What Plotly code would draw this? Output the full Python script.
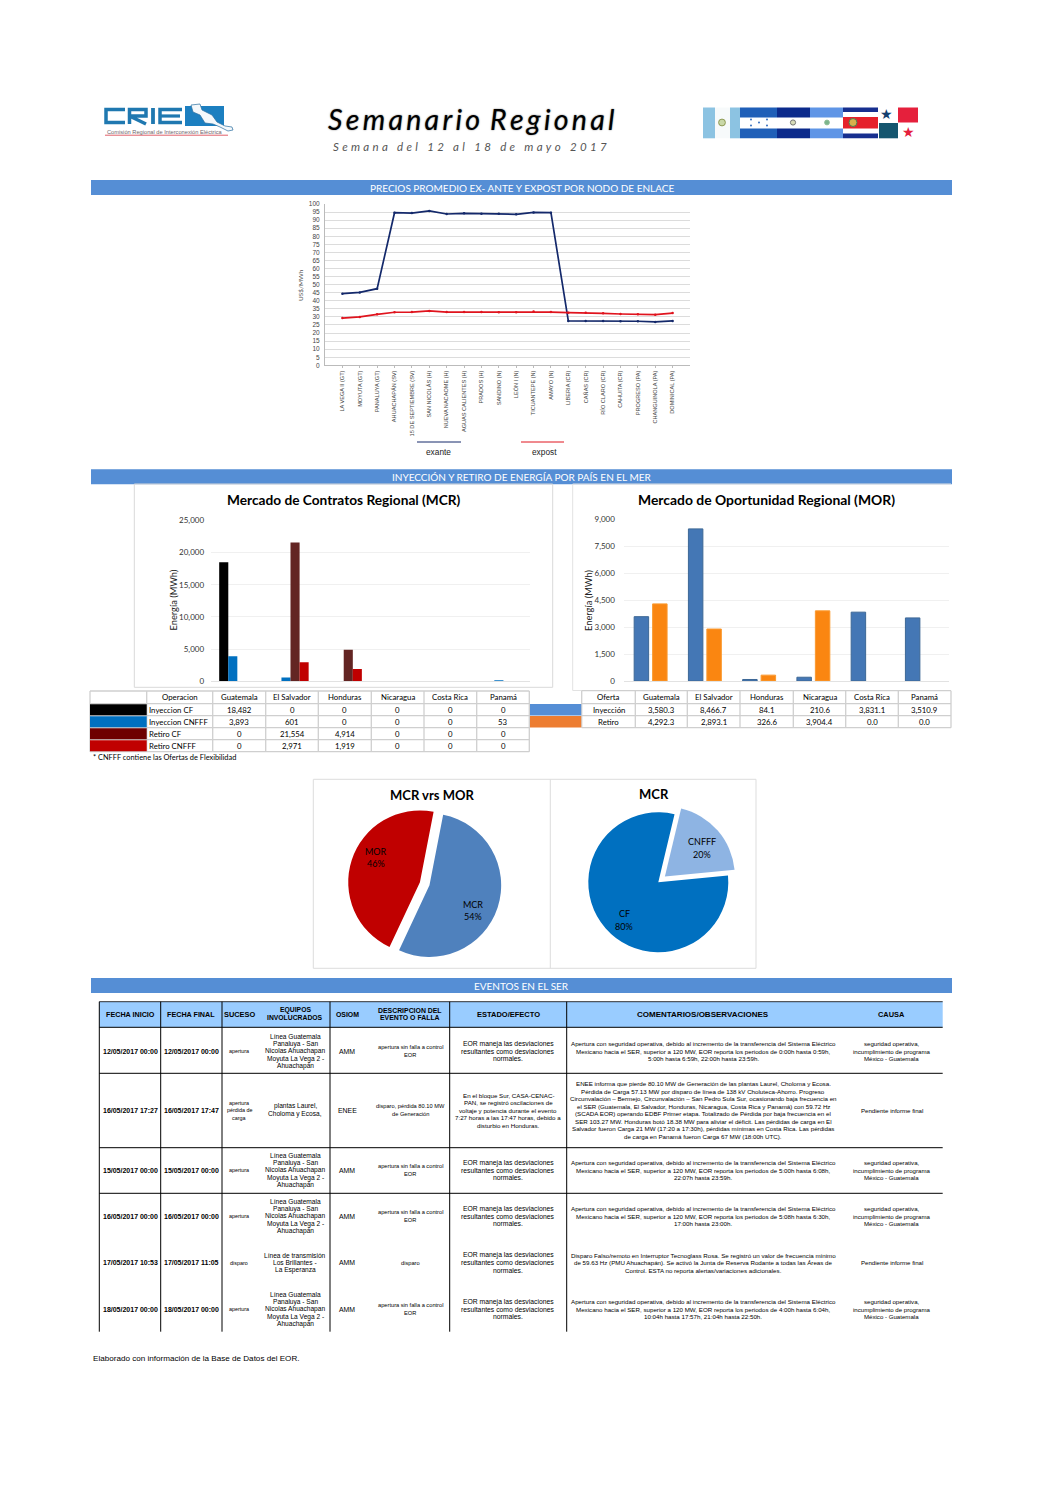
import plotly.graph_objects as go

W, H = 1058, 1496

# ---------------- data ----------------
nodes = ["LA VEGA II (GT)", "MOYUTA (GT)", "PANALUYA (GT)", "AHUACHAPÁN (SV)", "15 DE SEPTIEMBRE (SV)",
         "SAN NICOLÁS (H)", "NUEVA NACAOME (H)", "AGUAS CALIENTES (H)", "PRADOS (H)", "SANDINO (N)",
         "LEÓN I (N)", "TICUANTEPE (N)", "AMAYO (N)", "LIBERIA (CR)", "CAÑAS (CR)", "RÍO CLARO (CR)",
         "CAHUITA (CR)", "PROGRESO (PA)", "CHANGUINOLA (PA)", "DOMINICAL (PA)"]
exante = [44.4, 45.2, 47.5, 94.6, 94.4, 95.7, 93.8, 94.2, 94.0, 94.0,
          93.6, 94.8, 94.6, 27.5, 27.5, 27.5, 27.3, 27.3, 26.9, 27.5]
expost = [29.3, 30.0, 31.6, 32.9, 33.0, 33.7, 33.0, 33.0, 33.0, 32.9,
          32.9, 33.3, 33.0, 32.6, 32.6, 32.2, 31.8, 31.6, 31.4, 32.4]

countries = ["Guatemala", "El Salvador", "Honduras", "Nicaragua", "Costa Rica", "Panamá"]
mcr_series = ["Inyeccion CF", "Inyeccion CNFFF", "Retiro CF", "Retiro CNFFF"]
iny_cf = [18482, 0, 0, 0, 0, 0]
iny_cnfff = [3893, 601, 0, 0, 0, 53]
ret_cf = [0, 21554, 4914, 0, 0, 0]
ret_cnfff = [0, 2971, 1919, 0, 0, 0]

mor_series = ["Inyección", "Retiro"]
mor_iny = [3580.3, 8466.7, 84.1, 210.6, 3831.1, 3510.9]
mor_ret = [4292.3, 2893.1, 326.6, 3904.4, 0.0, 0.0]

pie1_labels = ["MCR", "MOR"]
pie1_values = [23029, 19683]
pie2_labels = ["CF", "CNFFF"]
pie2_values = [18482, 4547]

ev_headers = ["FECHA INICIO", "FECHA FINAL", "SUCESO", "EQUIPOS\nINVOLUCRADOS", "OSIOM",
              "DESCRIPCION DEL\nEVENTO O FALLA", "ESTADO/EFECTO", "COMENTARIOS/OBSERVACIONES", "CAUSA"]
EQ = "Línea Guatemala\nPanaluya - San\nNicolas Ahuachapan\nMoyuta La Vega 2 -\nAhuachapán"
AP = "apertura sin falla a control\nEOR"
ES = "EOR maneja las desviaciones\nresultantes como desviaciones\nnormales."
SE = "seguridad operativa,\nincumplimiento de programa\nMéxico - Guatemala"
PI = "Pendiente informe final"
events = [
    ["12/05/2017 00:00", "12/05/2017 00:00", "apertura", EQ, "AMM", AP, ES,
     "Apertura con seguridad operativa, debido al incremento de la transferencia del Sistema Eléctrico\n"
     "Mexicano hacia el SER, superior a 120 MW, EOR reporta los periodos de 0:00h hasta 0:59h,\n"
     "5:00h hasta 6:59h, 22:00h hasta 23:59h.", SE],
    ["16/05/2017 17:27", "16/05/2017 17:47", "apertura\npérdida de\ncarga", "plantas Laurel,\nCholoma y Ecosa,", "ENEE",
     "disparo, pérdida 80.10 MW\nde Generación",
     "En el bloque Sur, CASA-CENAC-\nPAN, se registró oscilaciones de\nvoltaje y potencia durante el evento\n7:27 horas a las 17:47 horas, debido a\ndisturbio en Honduras.",
     "ENEE informa que pierde 80.10 MW de Generación de las plantas Laurel, Choloma y Ecosa.\n"
     "Pérdida de Carga 57.13 MW por disparo de línea de 138 kV Choluteca-Ahorro. Progreso\n"
     "Circunvalación – Bermejo, Circunvalación – San Pedro Sula Sur, ocasionando baja frecuencia en\n"
     "el SER (Guatemala, El Salvador, Honduras, Nicaragua, Costa Rica y Panamá) con 59.72 Hz\n"
     "(SCADA EOR) operando EDBF Primer etapa. Totalizado de Pérdida por baja frecuencia en el\n"
     "SER 103.27 MW. Honduras botó 18.38 MW para aliviar el déficit. Las pérdidas de carga en El\n"
     "Salvador fueron Carga 21 MW (17:20 a 17:30h), pérdidas mínimas en Costa Rica. Las pérdidas\n"
     "de carga en Panamá fueron Carga 67 MW (18:00h UTC).", PI],
    ["15/05/2017 00:00", "15/05/2017 00:00", "apertura", EQ, "AMM", AP, ES,
     "Apertura con seguridad operativa, debido al incremento de la transferencia del Sistema Eléctrico\n"
     "Mexicano hacia el SER, superior a 120 MW, EOR reporta los periodos de 5:00h hasta 6:08h,\n"
     "22:07h hasta 23:59h.", SE],
    ["16/05/2017 00:00", "16/05/2017 00:00", "apertura", EQ, "AMM", AP, ES,
     "Apertura con seguridad operativa, debido al incremento de la transferencia del Sistema Eléctrico\n"
     "Mexicano hacia el SER, superior a 120 MW, EOR reporta los periodos de 5:08h hasta 6:30h,\n"
     "17:00h hasta 23:00h.", SE],
    ["17/05/2017 10:53", "17/05/2017 11:05", "disparo", "Línea de transmisión\nLos Brillantes -\nLa Esperanza", "AMM", "disparo", ES,
     "Disparo Falso/remoto en Interruptor Tecnoglass Rosa. Se registró un valor de frecuencia mínimo\n"
     "de 59.63 Hz (PMU Ahuachapán). Se activó la Junta de Reserva Rodante a todas las Áreas de\n"
     "Control. ESTA no reporta alertas/variaciones adicionales.", PI],
    ["18/05/2017 00:00", "18/05/2017 00:00", "apertura", EQ, "AMM", AP, ES,
     "Apertura con seguridad operativa, debido al incremento de la transferencia del Sistema Eléctrico\n"
     "Mexicano hacia el SER, superior a 120 MW, EOR reporta los periodos de 4:00h hasta 6:04h,\n"
     "10:04h hasta 17:57h, 21:04h hasta 22:50h.", SE],
]

# ---------------- layout helpers (page pixels -> paper) ----------------
def fx(x): return x / W
def fy(y): return 1 - y / H

SANS = "Liberation Sans"
CAL = "Lato"
shapes, annos = [], []

def rect(x0, y0, x1, y1, fill=None, line=None, lw=1, layer="below"):
    shapes.append(dict(type="rect", xref="paper", yref="paper", x0=fx(x0), x1=fx(x1), y0=fy(y0), y1=fy(y1),
                       fillcolor=fill if fill else "rgba(0,0,0,0)",
                       line=dict(color=line if line else "rgba(0,0,0,0)", width=lw if line else 0), layer=layer))

def seg(x0, y0, x1, y1, color, lw=1, layer="above"):
    shapes.append(dict(type="line", xref="paper", yref="paper", x0=fx(x0), x1=fx(x1), y0=fy(y0), y1=fy(y1),
                       line=dict(color=color, width=lw), layer=layer))

def poly(pts, fill=None, line=None, lw=1, closed=True, layer="above"):
    d = "M " + " L ".join(f"{fx(x):.5f} {fy(y):.5f}" for x, y in pts) + (" Z" if closed else "")
    shapes.append(dict(type="path", xref="paper", yref="paper", path=d,
                       fillcolor=fill if fill else "rgba(0,0,0,0)",
                       line=dict(color=line if line else "rgba(0,0,0,0)", width=lw if line else 0), layer=layer))

def disc(cx, cy, r, fill, line=None, lw=1):
    shapes.append(dict(type="circle", xref="paper", yref="paper", x0=fx(cx - r), x1=fx(cx + r), y0=fy(cy + r), y1=fy(cy - r),
                       fillcolor=fill, line=dict(color=line if line else "rgba(0,0,0,0)", width=lw if line else 0)))

def text(x, y, s, size=8, color="#000000", family=CAL, anchor="center", angle=0, bold=False, italic=False, shadow=None):
    font = dict(size=size, color=color, family=family)
    if bold: font["weight"] = "bold"
    if italic: font["style"] = "italic"
    if shadow: font["shadow"] = shadow
    annos.append(dict(xref="paper", yref="paper", x=fx(x), y=fy(y), text=s, showarrow=False, font=font,
                      xanchor=anchor, yanchor="middle", textangle=angle, borderpad=0, borderwidth=0))

def block(x, y, s, size, lh, **kw):
    lines = s.split("\n")
    top = y - lh * (len(lines) - 1) / 2
    for i, line in enumerate(lines):
        text(x, top + i * lh, line, size, **kw)

fig = go.Figure()

# ---------------- header: CRIE logo ----------------
LOGO = "#1f78b0"
poly([(125, 109.5), (106, 109.5), (106, 122.5), (125, 122.5)], line=LOGO, lw=3.5, closed=False)
poly([(129.5, 124), (129.5, 109.5), (146, 109.5), (146, 116), (129.5, 116), (146, 124)], line=LOGO, lw=3.5, closed=False)
poly([(153, 108), (153, 124)], line=LOGO, lw=3.8, closed=False)
poly([(182, 109.5), (160, 109.5), (160, 122.5), (182, 122.5)], line=LOGO, lw=3.5, closed=False)
poly([(160, 116), (180, 116)], line=LOGO, lw=3.2, closed=False)
rect(185, 106, 224, 126, fill="#1c7fc0", layer="above")
poly([(191, 105), (200, 104), (202, 110), (212, 115), (217, 122), (225, 126), (232, 127), (233, 130),
      (228, 131), (220, 127), (213, 124), (205, 123), (200, 115), (193, 112)], fill="#f4f8fb", line="#2a6f9f", lw=0.7)
text(165, 131.5, "Comisión Regional de Interconexión Eléctrica", 5.7, color="#6f666c", family=SANS)
seg(105, 135.2, 228, 135.2, "#e0606a", 1)

# ---------------- header: title ----------------
TH = "\u2009"
text(470.5, 119.5, TH.join("Semanario") + " \u2009" + TH.join("Regional"), 28.5, italic=True, family=CAL,
     shadow="0 0 1.5px #555555")
text(470, 146, (TH + TH + "\u200a").join("Semana del 12 al 18 de mayo 2017"), 11.5, italic=True, color="#555555", family=CAL)

# ---------------- header: flags ----------------
FT, FB = 107.5, 138.3
def band(x0, x1, y0, y1, c): rect(x0, y0, x1, y1, fill=c, layer="above")
band(703, 715, FT, FB, "#8cc3e2"); band(715, 730, FT, FB, "#f7fafb"); band(730, 740, FT, FB, "#8cc3e2")
band(740, 777, FT, FB, "#ffffff"); band(740, 777, FT, 117.5, "#1f5fb8"); band(740, 777, 128.5, FB, "#1f5fb8")
band(777, 810, FT, FB, "#ffffff"); band(777, 810, FT, 117.5, "#0b2a8c"); band(777, 810, 128.5, FB, "#0b2a8c")
band(810, 843, FT, FB, "#ffffff"); band(810, 843, FT, 117.5, "#5f95e6"); band(810, 843, 128.5, FB, "#5f95e6")
band(843, 878, FT, FB, "#ffffff"); band(843, 878, FT, 112, "#172f8f"); band(843, 878, 117, 128.5, "#e5202a"); band(843, 878, 133.5, FB, "#172f8f")
band(879, 898, 123, FB, "#15566f"); band(898, 918, FT, 122.5, "#e5203c")
disc(722, 122.5, 3.4, "#c9d8a8", "#8e9a55"); disc(793, 122.5, 2.6, "#d8dcb8", "#777777")
disc(827, 122.5, 2.4, "#7cb58c", "#8fbf98"); disc(853, 122.5, 4, "#d8b04c", "#4a7f52")
for cx, cy in [(751, 119.5), (767, 119.5), (759, 122.5), (751, 125.5), (767, 125.5)]:
    disc(cx, cy, 0.9, "#1f5fb8")
text(886.5, 114, "★", 14, color="#14406f", family="DejaVu Sans")
text(908.5, 132, "★", 14, color="#e5203c", family="DejaVu Sans")

# ---------------- section bars ----------------
BAR = "#558ed5"
for y0, label in [(180, "PRECIOS PROMEDIO EX- ANTE Y EXPOST POR NODO DE ENLACE"),
                  (469.3, "INYECCIÓN Y RETIRO DE ENERGÍA POR PAÍS EN EL MER"),
                  (978, "EVENTOS EN EL SER")]:
    rect(91, y0, 952, y0 + 15, fill=BAR)
    text(521.5, y0 + 7.8, label, 10, color="#ffffff", family=CAL)

# ---------------- price lines ----------------
LX0, LX1, LY0, LY1 = 325, 690, 204, 365.3
fig.add_trace(go.Scatter(x=nodes, y=exante, name="exante", mode="lines+markers", line=dict(color="#14296b", width=1.7),
                         marker=dict(size=2.5, color="#14296b"), xaxis="x", yaxis="y", showlegend=False))
fig.add_trace(go.Scatter(x=nodes, y=expost, name="expost", mode="lines+markers", line=dict(color="#e0141e", width=1.7),
                         marker=dict(size=2.5, color="#e0141e"), xaxis="x", yaxis="y", showlegend=False))
text(300, 285, "US$/MWh", 6.5, color="#555555", family=CAL, angle=-90)
seg(417, 442, 461, 442, "#14296b", 1)
seg(521, 442, 564, 442, "#e0141e", 1)
text(438, 452.3, "exante", 8.3, color="#222222", family=SANS)
text(544, 452.3, "expost", 8.3, color="#222222", family=SANS)

# ---------------- MCR chart ----------------
rect(134.3, 484, 552.7, 687.3, line="#d9d9d9", lw=1)
mcr_colors = ["#000000", "#0070c0", "#632523", "#c00000"]
for name, vals, col in zip(mcr_series, [iny_cf, iny_cnfff, ret_cf, ret_cnfff], mcr_colors):
    fig.add_trace(go.Bar(x=countries, y=vals, name=name, marker=dict(color=col, line=dict(width=0)),
                         xaxis="x2", yaxis="y2", showlegend=False))
text(343.5, 499.6, "Mercado de Contratos Regional (MCR)", 13.7, bold=True)
text(173, 600.5, "Energía (MWh)", 9.3, angle=-90, color="#222222")

# ---------------- MOR chart ----------------
poly([(951, 484), (572.7, 484), (572.7, 690.5), (951, 690.5)], line="#e2e2e2", lw=1, closed=False, layer="below")
mor_colors = ["#4477b5", "#fa8611"]
mor_edges = ["#3d6896", "#fa9a30"]
for name, vals, col, edge in zip(mor_series, [mor_iny, mor_ret], mor_colors, mor_edges):
    fig.add_trace(go.Bar(x=countries, y=vals, name=name,
                         marker=dict(color=col, line=dict(color=edge, width=[1 if v > 0 else 0 for v in vals])),
                         xaxis="x3", yaxis="y3", showlegend=False))
text(766, 499.6, "Mercado de Oportunidad Regional (MOR)", 13.9, bold=True)
text(588.5, 600.5, "Energía (MWh)", 9.3, angle=-90, color="#222222")

# ---------------- small tables ----------------
GRID = "#cfcfcf"
def grid(xs, ys, lw=1.3):
    for x in xs:
        seg(x, ys[0], x, ys[-1], GRID, lw, layer="below")
    for y in ys:
        seg(xs[0], y, xs[-1], y, GRID, lw, layer="below")

mx = [90, 146.7, 212.7, 265.7, 318.3, 371.3, 424, 476.7, 529.3]
my = [691, 703.7, 715.7, 727.7, 739.7, 751.7]
grid(mx, my)
swatch_mcr = ["#000000", "#0070c0", "#6e0000", "#c00000"]
text((mx[1] + mx[2]) / 2, (my[0] + my[1]) / 2, "Operacion", 7.8)
for j, c in enumerate(countries):
    text((mx[j + 2] + mx[j + 3]) / 2, (my[0] + my[1]) / 2, c, 7.8)
for i, (name, vals, col) in enumerate(zip(mcr_series, [iny_cf, iny_cnfff, ret_cf, ret_cnfff], swatch_mcr)):
    cy = (my[i + 1] + my[i + 2]) / 2
    rect(mx[0], my[i + 1] + 0.5, mx[1], my[i + 2] - 0.5, fill=col, layer="above")
    text(149, cy, name, 7.8, anchor="left")
    for j, v in enumerate(vals):
        text((mx[j + 2] + mx[j + 3]) / 2, cy, f"{v:,}", 7.8)
text(93, 757.3, "* CNFFF contiene las Ofertas de Flexibilidad", 7.4, anchor="left")

ox = [581.7, 635.3, 687.3, 740, 793.3, 845.7, 898.3, 951]
oy = [690.7, 703.7, 715.7, 727.7]
grid(ox, oy)
text((ox[0] + ox[1]) / 2, (oy[0] + oy[1]) / 2, "Oferta", 7.8)
for j, c in enumerate(countries):
    text((ox[j + 1] + ox[j + 2]) / 2, (oy[0] + oy[1]) / 2, c, 7.8)
for i, (name, vals, col) in enumerate(zip(mor_series, [mor_iny, mor_ret], ["#558ed5", "#ed7d31"])):
    cy = (oy[i + 1] + oy[i + 2]) / 2
    rect(530, oy[i + 1] + 0.3, 581.2, oy[i + 2] - 0.3, fill=col, layer="above")
    text((ox[0] + ox[1]) / 2, cy, name, 7.8)
    for j, v in enumerate(vals):
        text((ox[j + 1] + ox[j + 2]) / 2, cy, f"{v:,.1f}", 7.8)

# ---------------- pies ----------------
rect(313.3, 779.3, 756, 968.3, line="#dddddd", lw=1)
seg(550.3, 779.3, 550.3, 968.3, "#dddddd", 1, layer="below")
def pie_domain(cx, cy, r, pull):
    half = r * (1 + pull)
    return dict(x=[fx(cx - half), fx(cx + half)], y=[fy(cy + half), fy(cy - half)])
fig.add_trace(go.Pie(labels=pie1_labels, values=pie1_values, sort=False, direction="clockwise", rotation=11,
                     pull=[0.07, 0.07], textinfo="none", hoverinfo="label+percent", showlegend=False,
                     marker=dict(colors=["#4f81bd", "#c00000"], line=dict(width=0)),
                     domain=pie_domain(424.7, 883.7, 71.7, 0.07)))
fig.add_trace(go.Pie(labels=pie2_labels, values=pie2_values, sort=False, direction="clockwise", rotation=84.5,
                     pull=[0, 0.125], textinfo="none", hoverinfo="label+percent", showlegend=False,
                     marker=dict(colors=["#0070c0", "#8eb4e3"], line=dict(width=0)),
                     domain=pie_domain(658.3, 882.3, 70, 0.125)))
text(431.7, 795.3, "MCR vrs MOR", 13, bold=True)
text(654, 794.3, "MCR", 13, bold=True)
block(375.7, 857.3, "MOR\n46%", 9, 12, color="#000000")
block(473, 910, "MCR\n54%", 9, 12, color="#000000")
block(701.7, 848.3, "CNFFF\n20%", 9, 13, color="#000000")
block(624, 920, "CF\n80%", 9, 12.5, color="#000000")

# ---------------- events table ----------------
vx = [99.3, 160.7, 222, 330, 449.7, 566.7]
rect(99.3, 1001.7, 942.7, 1027.3, fill="#99ccff")
seg(99.3, 1001.7, 942.7, 1001.7, "#000000", 0.8)
for x in vx:
    seg(x, 1001.7, x, 1331.7, "#000000", 1)
for y in [1027.3, 1073.3, 1147.7, 1193.3]:
    seg(99.3, y, 942.7, y, "#000000", 1)

col_x = [130, 191, 239, 295, 347, 410, 508, 703, 891.7]
head_size = [7.2, 7.2, 7.4, 6.8, 6.9, 6.9, 7.5, 8, 7.4]
col_size = [7, 7, 5.4, 6.6, 6.9, 5.7, 6.8, 6.2, 6.1]
row_y = [1051, 1110, 1170, 1216, 1262.7, 1309]
for x, h, s in zip(col_x, ev_headers, head_size):
    block(x, 1014, h, s, 7.5, bold=True, family=SANS)
for r, (y, row) in enumerate(zip(row_y, events)):
    for k, (x, s, cell) in enumerate(zip(col_x, col_size, row)):
        if r == 1 and k == 6:
            s = 6.2
        block(x, y, cell, s, 7.5, family=SANS, bold=k < 2)
text(93, 1358, "Elaborado con información de la Base de Datos del EOR.", 8.1, family=SANS, anchor="left")

# ---------------- axes ----------------
def dom(x0, x1, y0, y1):
    return dict(domain=[fx(x0), fx(x1)]), dict(domain=[fy(y1), fy(y0)])

dx1, dy1 = dom(LX0, LX1, LY0, LY1)
dx2, dy2 = dom(210.7, 530, 520.3, 681.3)
dx3, dy3 = dom(623.5, 949, 519.3, 681)

fig.update_layout(
    width=W, height=H, autosize=False, margin=dict(l=0, r=0, t=0, b=0, pad=0),
    paper_bgcolor="#ffffff", plot_bgcolor="rgba(0,0,0,0)", showlegend=False,
    bargap=0.32, bargroupgap=0, barmode="group",
    shapes=shapes, annotations=annos,
    xaxis=dict(**dx1, type="category", categoryorder="array", categoryarray=nodes, range=[-1, 20],
               tickangle=-90, tickfont=dict(size=5.6, color="#444444", family=SANS), ticks="outside", ticklen=2,
               tickcolor="#bbbbbb", showline=True, linecolor="#bbbbbb", showgrid=False, automargin=False, tickmode="array",
               tickvals=nodes, ticktext=nodes),
    yaxis=dict(**dy1, range=[0, 100], dtick=5, tickfont=dict(size=6.5, color="#444444", family=SANS), gridcolor="#dcdcdc",
               gridwidth=1, showline=True, linecolor="#bbbbbb", ticks="outside", ticklen=3, tickcolor="#ffffff",
               automargin=False, zeroline=False),
    xaxis2=dict(**dx2, anchor="y2", type="category", categoryorder="array", categoryarray=countries,
                showticklabels=False, ticks="", showgrid=False, showline=True, linecolor="#e2e2e2", automargin=False),
    yaxis2=dict(**dy2, anchor="x2", range=[0, 25000], dtick=5000, tickformat=",", tickfont=dict(size=8, color="#333333", family=CAL),
                gridcolor="#f0f0f0", showline=False, ticks="outside", ticklen=4, tickcolor="#ffffff", zeroline=False, automargin=False),
    xaxis3=dict(**dx3, anchor="y3", type="category", categoryorder="array", categoryarray=countries,
                showticklabels=False, ticks="", showgrid=False, showline=True, linecolor="#e2e2e2", automargin=False),
    yaxis3=dict(**dy3, anchor="x3", range=[0, 9000], dtick=1500, tickformat=",", tickfont=dict(size=8, color="#333333", family=CAL),
                gridcolor="#f0f0f0", showline=False, ticks="outside", ticklen=6, tickcolor="#ffffff", zeroline=False, automargin=False),
)
fig.update_traces(selector=dict(type="bar", xaxis="x2"), width=0.171)
fig.update_traces(selector=dict(type="bar", xaxis="x3"), width=0.267)

fig.write_html("out.html", config=dict(displayModeBar=False),
               post_script="document.body.style.margin='0';document.body.style.overflow='hidden';")
